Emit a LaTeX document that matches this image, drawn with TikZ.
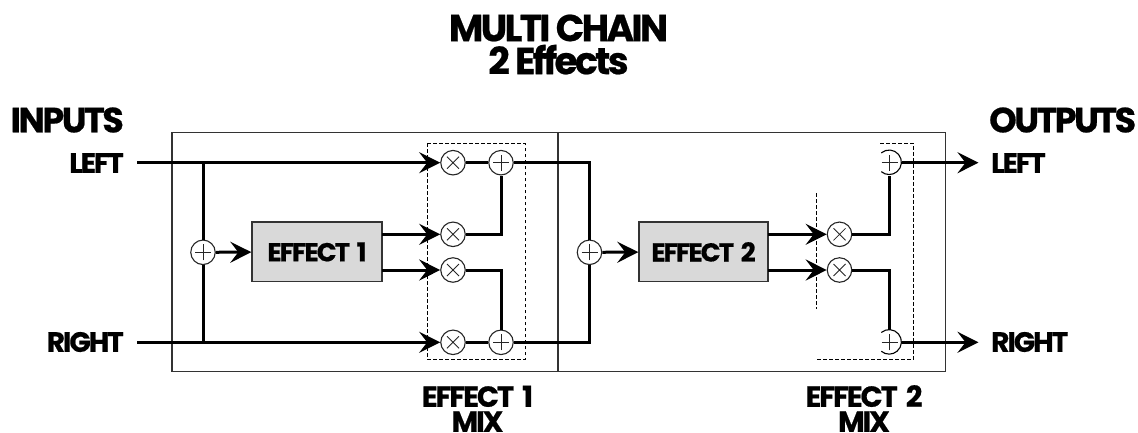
\documentclass[tikz,border=0pt]{standalone}
\usepackage{fontspec}
\setmainfont{Poppins}[LetterSpace=-7,FakeBold=0.6]
\usetikzlibrary{arrows.meta}
\tikzset{
  heavy/.style={line width=3pt},
  flow/.style={heavy,-{Stealth[length=21pt,width=21pt,inset=8pt]}},
  thin box/.style={draw=black!80,line width=1.3pt},
  mixbox/.style={black,line width=1pt,dash pattern=on 3.8pt off 2.2pt},
  effectbox/.style={draw=black!80,line width=1.4pt,fill=black!15,inner sep=0pt,minimum height=59.7pt,
    font=\bfseries\fontsize{26}{26}\selectfont},
  sumnode/.style={circle,draw=black!85,fill=white,line width=1.1pt,minimum size=24.5pt,inner sep=0pt,
    path picture={\draw[line width=0.9pt] (path picture bounding box.center) ++(-8pt,0) -- ++(16pt,0)
      (path picture bounding box.center) ++(0,-8pt) -- ++(0,16pt);}},
  mulnode/.style={circle,draw=black!85,fill=white,line width=1.1pt,minimum size=24.5pt,inner sep=0pt,
    path picture={\draw[line width=0.8pt] (path picture bounding box.center) ++(-6pt,-6pt) -- ++(12pt,12pt)
      (path picture bounding box.center) ++(-6pt,6pt) -- ++(12pt,-12pt);}},
  lbl/.style={inner sep=0pt,font=\bfseries\fontsize{28}{28}\selectfont},
  caption/.style={inner sep=0pt,align=center,anchor=south,font=\bfseries\fontsize{29}{25}\selectfont},
  big/.style={inner sep=0pt,font=\bfseries\fontsize{35}{35}\selectfont},
  heading/.style={inner sep=0pt,align=center,font=\bfseries\fontsize{37.5}{33}\selectfont},
}
\begin{document}
\begin{tikzpicture}[x=1pt,y=-1pt]
  \useasboundingbox (0,0) rectangle (1138,432);
  % titles
  \node[heading] (title) at (558.5,44.5) {MULTI CHAIN\\2 Effects};
  \node[big,anchor=east] (inputs) at (124,120) {INPUTS};
  \node[big,anchor=west] (outputs) at (989,120) {OUTPUTS};
  % outer frames
  \draw[thin box] (172,132.7) rectangle (558,371.7);
  \draw[thin box] (558,132.7) rectangle (945.5,371.7);
  % mix areas
  \draw[mixbox] (427,143.3) rectangle (525,359.3);
  \draw[mixbox] (880,143.3) -- (913.5,143.3) -- (913.5,359.3) -- (816,359.3);
  \draw[mixbox] (816,193.3) -- (816,309.3);
  % input and output labels
  \node[lbl,anchor=east] (inleft) at (124,163) {LEFT};
  \node[lbl,anchor=east] (inright) at (124,342) {RIGHT};
  \node[lbl,anchor=west] (outleft) at (991,163) {LEFT};
  \node[lbl,anchor=west] (outright) at (991,342) {RIGHT};
  % effect one
  \node[sumnode] (sumone) at (203,252.3) {};
  \node[effectbox,minimum width=130pt] (effectone) at (317,251.9) {EFFECT\hspace{3pt} 1};
  \node[mulnode] (mulA) at (453,162.7) {};
  \node[mulnode] (mulB) at (453,234.3) {};
  \node[mulnode] (mulC) at (453,270) {};
  \node[mulnode] (mulD) at (453,342.3) {};
  \node[sumnode] (sumA) at (501,162.7) {};
  \node[sumnode] (sumB) at (501,342.3) {};
  % effect two
  \node[sumnode] (sumtwo) at (589.5,252.3) {};
  \node[effectbox,minimum width=129pt] (effecttwo) at (703.5,251.9) {EFFECT\hspace{3pt} 2};
  \node[mulnode] (mulE) at (839.5,234.3) {};
  \node[mulnode] (mulF) at (839.5,270) {};
  \node[sumnode,draw=none] (sumC) at (889.5,162.7) {};
  \node[sumnode,draw=none] (sumD) at (889.5,342.3) {};
  \draw[line width=1.1pt] (sumC.130) arc[start angle=130,end angle=-130,radius=12.25pt];
  \draw[line width=1.1pt] (sumD.130) arc[start angle=130,end angle=-130,radius=12.25pt];
  % free ends
  \coordinate (startL) at (137,162.7);
  \coordinate (startR) at (137,342.3);
  \coordinate (tapL) at (203,162.7);
  \coordinate (tapR) at (203,342.3);
  \coordinate (busL) at (589.5,162.7);
  \coordinate (busR) at (589.5,342.3);
  \coordinate (endL) at (978.5,162.7);
  \coordinate (endR) at (978.5,342.3);
  \coordinate (effectoneA) at (382,234.3);
  \coordinate (effectoneB) at (382,270);
  \coordinate (effecttwoA) at (768,234.3);
  \coordinate (effecttwoB) at (768,270);
  % wiring
  \draw[flow] (startL) -- (mulA);
  \draw[flow] (startR) -- (mulD);
  \draw[heavy] (tapL) -- (sumone);
  \draw[heavy] (tapR) -- (sumone);
  \draw[flow] (sumone) -- (effectone);
  \draw[flow] (effectoneA) -- (mulB);
  \draw[flow] (effectoneB) -- (mulC);
  \draw[heavy] (mulA) -- (sumA);
  \draw[heavy] (mulD) -- (sumB);
  \draw[heavy] (mulB) -| (sumA);
  \draw[heavy] (mulC) -| (sumB);
  \draw[heavy] (sumA) -- (busL) -- (sumtwo);
  \draw[heavy] (sumB) -- (busR) -- (sumtwo);
  \draw[flow] (sumtwo) -- (effecttwo);
  \draw[flow] (effecttwoA) -- (mulE);
  \draw[flow] (effecttwoB) -- (mulF);
  \draw[heavy] (mulE) -| (sumC);
  \draw[heavy] (mulF) -| (sumD);
  \draw[flow] (sumC) -- (endL);
  \draw[flow] (sumD) -- (endR);
  % mix captions
  \node[caption] (mixone) at (477.5,432) {EFFECT\hspace{4pt} 1\\MIX};
  \node[caption] (mixtwo) at (864,432) {EFFECT\hspace{4pt} 2\\MIX};
\end{tikzpicture}
\end{document}
